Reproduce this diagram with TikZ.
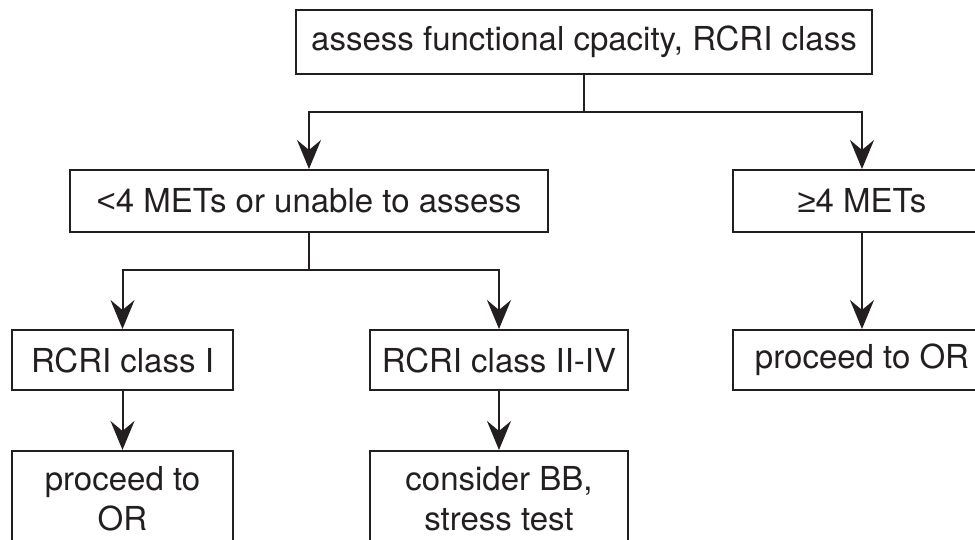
\documentclass[tikz,border=0pt]{standalone}
\usepackage{fontspec}
\setmainfont{TeX Gyre Heros}
\newfontfamily\symfont{Liberation Sans}
\usetikzlibrary{arrows.meta}
\definecolor{ink}{HTML}{231F20}
\begin{document}
\begin{tikzpicture}[x=1pt,y=1pt,
  box/.style={draw=ink, line width=2pt, text=ink, inner sep=0pt,
    font=\fontsize{33}{40}\selectfont, align=center},
  arr/.style={draw=ink, line width=2pt,
    -{Stealth[length=29pt,width=24pt,inset=10pt]}},
  ln/.style={draw=ink, line width=2pt}]
\useasboundingbox (0,0) rectangle (975,-540);
% top level
\node[box, minimum width=576pt, minimum height=64pt] (top) at (584,-42) {assess functional cpacity, RCRI class};
% second level
\node[box, minimum width=478pt, minimum height=62pt] (low) at (309,-201) {{\symfont <}4 METs or unable to assess};
\node[box, minimum width=258pt, minimum height=62pt] (high) at (862,-201) {{\symfont ≥}4 METs};
% third level
\node[box, minimum width=221pt, minimum height=60pt] (c1) at (122.5,-360) {RCRI class I};
\node[box, minimum width=258pt, minimum height=60pt] (c24) at (499,-360) {RCRI class II-IV};
\node[box, minimum width=258pt, minimum height=60pt] (orhigh) at (862,-360) {proceed to OR};
% fourth level
\node[box, minimum width=221pt, minimum height=96pt, anchor=north] (or1) at (122.5,-450) {proceed to\\OR};
\node[box, minimum width=258pt, minimum height=96pt, anchor=north] (bb) at (499,-450) {consider BB,\\stress test};
% junctions
\coordinate (j1) at (584,-112);
\coordinate (j2) at (309,-270);
% connectors
\draw[ln] (top) -- (j1);
\draw[arr] (j1) -| (low);
\draw[arr] (j1) -| (high);
\draw[ln] (low) -- (j2);
\draw[arr] (j2) -| (c1);
\draw[arr] (j2) -| (c24);
\draw[arr] (high) -- (orhigh);
\draw[arr] (c1) -- (or1);
\draw[arr] (c24) -- (bb);
\end{tikzpicture}
\end{document}
